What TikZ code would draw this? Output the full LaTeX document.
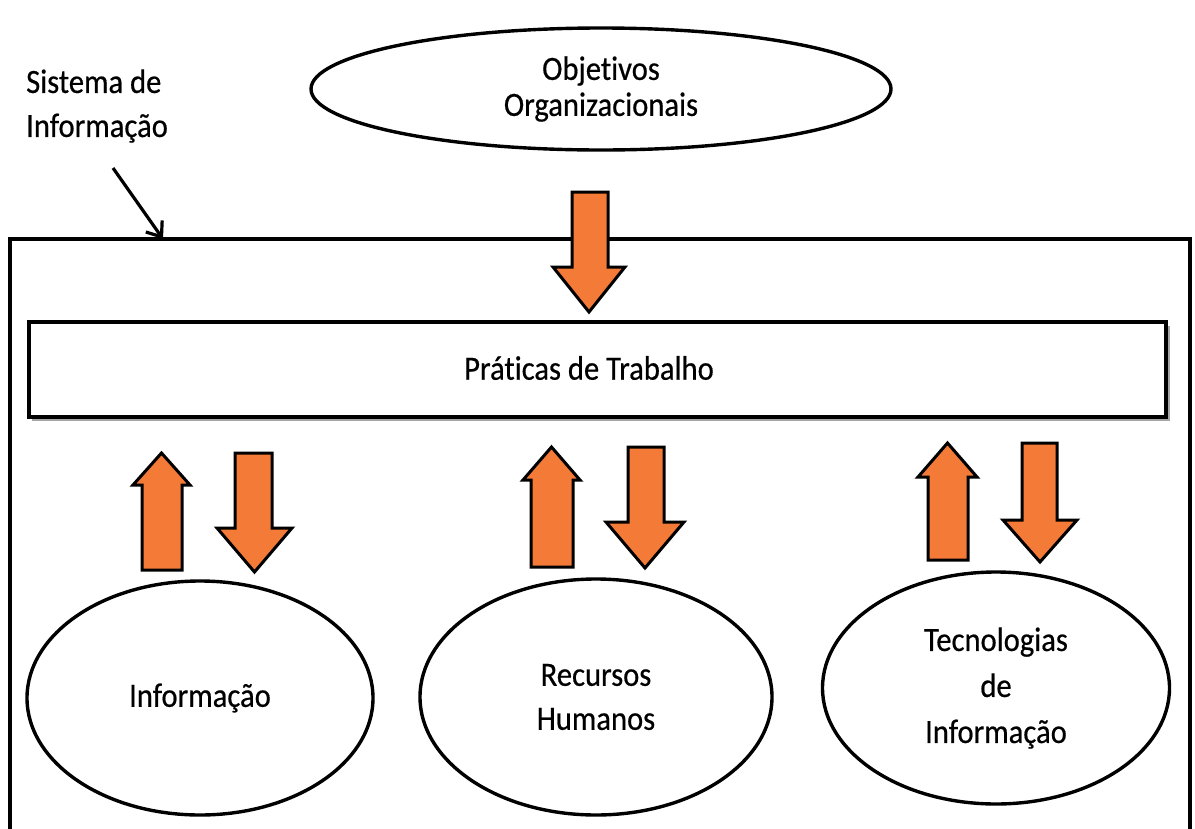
\documentclass[tikz,border=0pt]{standalone}
\usepackage{fontspec}
\setmainfont{Carlito}[FakeStretch=0.9, FakeBold=0.5, Ligatures=NoCommon]
\usetikzlibrary{shapes.geometric,arrows.meta}
\definecolor{arrowfill}{HTML}{F47A38}
\tikzset{
  oval/.style={draw, line width=3.4pt, ellipse, inner sep=0pt, align=center},
  labeltext/.style={inner sep=0pt, align=center, font=\fontsize{34}{38}\selectfont},
  framebox/.style={draw, line width=3.4pt, inner sep=0pt},
  blockarrow/.style={fill=arrowfill, draw=black, line width=3pt, line join=miter},
  pointer/.style={line width=3.2pt, -{Straight Barb[length=13pt,width=20pt,line width=3.2pt]}},
}
% block arrow: shaft from (#1..#2, #3) to head base #4, head #5..#6, tip at #7
\newcommand\blockarrowpath[7]{%
  \filldraw[blockarrow] (#1,#3) -- (#2,#3) -- (#2,#4) -- (#6,#4)
    -- ({(#5+#6)/2},#7) -- (#5,#4) -- (#1,#4) -- cycle;}
\begin{document}
\begin{tikzpicture}[x=1pt,y=-1pt]
\useasboundingbox (0,0) rectangle (1195,828);
\clip (0,0) rectangle (1195,828);
\fill[white] (0,0) rectangle (1195,828);

% information system frame (open at the bottom)
\draw[line width=3.4pt] (10,840) -- (10,239) -- (1190,239) -- (1190,840);

% organisational objectives
\node[oval, minimum width=580pt, minimum height=122pt,
      font=\fontsize{34}{36}\selectfont] (obj) at (601,89)
  {Objetivos\\Organizacionais};

% frame label and its pointer
\node[inner sep=0pt, anchor=west, align=left,
      font=\fontsize{34}{44}\selectfont] (sislbl) at (26,106)
  {Sistema de\\Informação};
\coordinate (ptrstart) at (113,168);
\coordinate (ptrend) at (163,239);
\draw[pointer] (ptrstart) -- (ptrend);

% work practices
\fill[black!35] (32,326) rectangle (1170,421);
\node[framebox, fill=white, minimum width=1137pt, minimum height=95pt]
  (prat) at (597.5,369.5) {};
\node[labeltext] (pratlbl) at (589,368) {Práticas de Trabalho};

% objectives -> practices
\blockarrowpath{572}{608}{192}{267}{553}{625}{312}

% lower components
\node[oval, minimum width=346pt, minimum height=234pt,
      font=\fontsize{34}{44}\selectfont] (info) at (200,698) {Informação};
\node[oval, minimum width=352pt, minimum height=236pt,
      font=\fontsize{34}{44}\selectfont] (rh) at (596,697) {Recursos\\Humanos};
\node[oval, minimum width=347pt, minimum height=232pt,
      font=\fontsize{34}{46}\selectfont] (ti) at (996,688)
  {Tecnologias\\de\\Informação};

% exchanges with the practices
\blockarrowpath{142}{182}{570}{485}{133}{190}{453}
\blockarrowpath{235}{272}{453}{528}{217}{292}{572}
\blockarrowpath{531}{573}{567}{480}{523}{580}{447}
\blockarrowpath{628}{664}{447}{522}{606}{684}{568}
\blockarrowpath{928}{968}{560}{477}{918}{977}{443}
\blockarrowpath{1022}{1057}{443}{520}{1003}{1077}{562}
\end{tikzpicture}
\end{document}
